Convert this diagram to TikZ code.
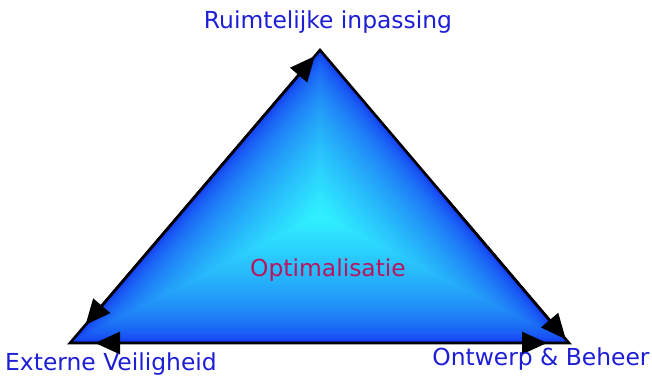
\documentclass[tikz,border=0pt]{standalone}
\usepackage{fontspec}
\setmainfont{DejaVu Sans}
\usetikzlibrary{arrows.meta,positioning,calc}
\definecolor{glowc}{HTML}{30F4FF}
\definecolor{edgec}{HTML}{1438F2}
\definecolor{labelc}{HTML}{1E1ED6}
\definecolor{midc}{HTML}{B8165E}
\tikzset{
	lbl/.style={text=labelc, font=\fontsize{23.4}{26}\selectfont, inner sep=0pt},
	arr/.style={line width=2.6pt, -{Triangle[length=25pt,width=22pt]}}
}
\begin{document}
\begin{tikzpicture}[x=1pt, y=-1pt]
		\useasboundingbox (0,0) rectangle (652,379);
		\coordinate (T) at (320,50);
		\coordinate (L) at (70,343);
		\coordinate (R) at (569,343);
		\coordinate (I) at (320,215);
		% nested triangles for the glow
		\foreach \i in {0,...,50}{
			\pgfmathsetmacro\s{1-\i/50}
			\pgfmathsetmacro\p{100*(\i/50)^0.6}
			\fill[glowc!\p!edgec] ($(I)!\s!(T)$) -- ($(I)!\s!(L)$) -- ($(I)!\s!(R)$) -- cycle;
		}
		\draw[line width=2.6pt, line join=miter] (T)--(L)--(R)--cycle;
		\draw[arr, shorten >=8pt] ($(L)!0.5!(T)$) -- (T);
		\draw[arr, shorten >=24pt] ($(L)!0.5!(T)$) -- (L);
		\draw[arr, shorten >=25pt] ($(L)!0.5!(R)$) -- (L);
		\draw[arr, shorten >=22pt] ($(L)!0.5!(R)$) -- (R);
		\draw[arr, shorten >=5pt] ($(T)!0.5!(R)$) -- (R);
		\node[lbl] (ruimte) at (328,22) {Ruimtelijke inpassing};
		\node[lbl] (extern) at (111,364) {Externe Veiligheid};
		\node[lbl] (ontwerp) at (541,359) {Ontwerp \& Beheer};
		\node[lbl, text=midc] (optim) at (328,270) {Optimalisatie};
	\end{tikzpicture}
\end{document}
